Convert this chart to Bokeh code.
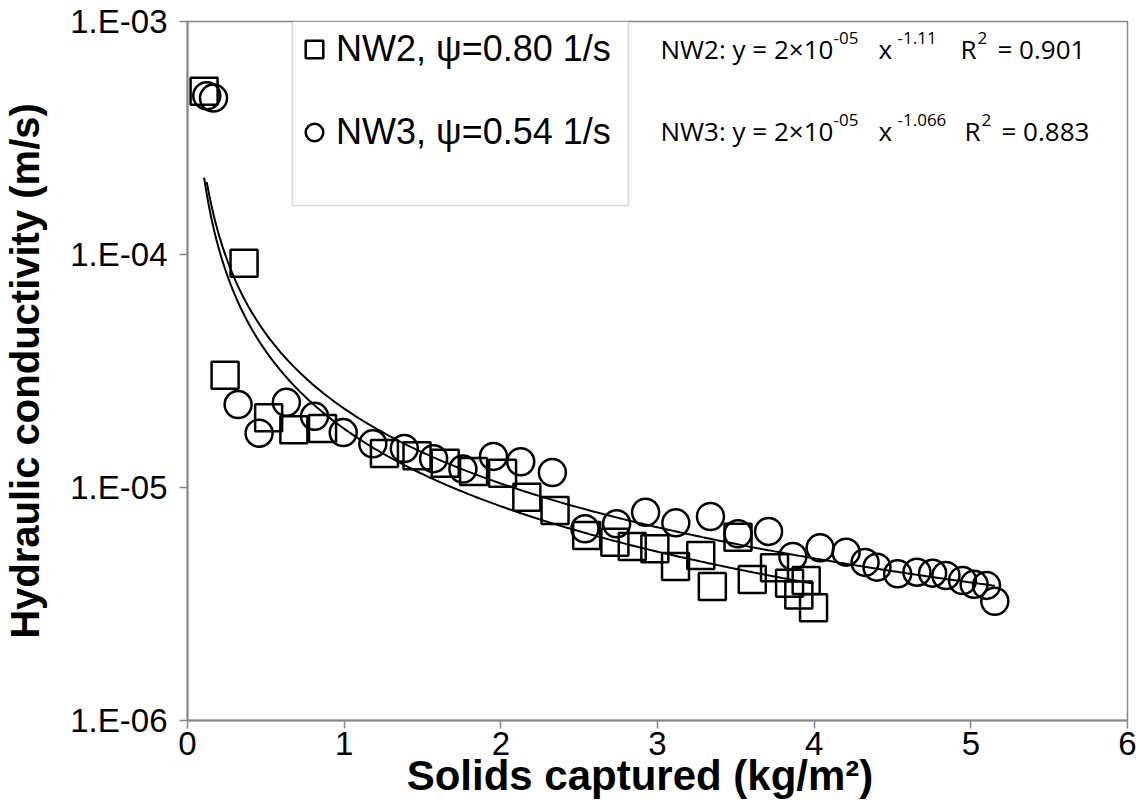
import numpy as np
from bokeh.plotting import figure
from bokeh.models import (Range1d, FixedTicker, CustomJSTickFormatter, Legend,
                          LegendItem, Label, BoxAnnotation)
from bokeh.embed import file_html
from bokeh.resources import INLINE

# ---------------- data ----------------
nw2_solids = [0.106, 0.24, 0.361, 0.518, 0.679, 0.862, 1.257, 1.465, 1.645,
              1.826, 2.011, 2.166, 2.346, 2.548, 2.728, 2.839, 2.983, 3.115,
              3.276, 3.350, 3.514, 3.605, 3.747, 3.843, 3.902, 3.949, 3.996]
nw2_k = [5.02e-4, 3.03e-5, 9.18e-5, 1.99e-5, 1.77e-5, 1.79e-5, 1.40e-5, 1.37e-5,
         1.27e-5, 1.17e-5, 1.15e-5, 9.08e-6, 7.96e-6, 6.22e-6, 5.82e-6, 5.58e-6,
         5.46e-6, 4.58e-6, 5.11e-6, 3.76e-6, 6.12e-6, 4.03e-6, 4.52e-6, 3.88e-6,
         3.46e-6, 3.99e-6, 3.05e-6]

nw3_solids = [0.123, 0.166, 0.323, 0.457, 0.631, 0.811, 0.994, 1.183, 1.384,
              1.571, 1.758, 1.953, 2.127, 2.329, 2.537, 2.739, 2.924, 3.117,
              3.338, 3.514, 3.709, 3.864, 4.038, 4.204, 4.325, 4.401, 4.533,
              4.656, 4.756, 4.841, 4.947, 5.021, 5.100, 5.153]
nw3_k = [4.80e-4, 4.69e-4, 2.27e-5, 1.71e-5, 2.32e-5, 2.02e-5, 1.72e-5, 1.54e-5,
         1.47e-5, 1.33e-5, 1.20e-5, 1.36e-5, 1.29e-5, 1.16e-5, 6.65e-6, 6.99e-6,
         7.83e-6, 7.05e-6, 7.51e-6, 6.33e-6, 6.48e-6, 5.06e-6, 5.51e-6, 5.28e-6,
         4.77e-6, 4.55e-6, 4.26e-6, 4.33e-6, 4.29e-6, 4.19e-6, 3.99e-6, 3.84e-6,
         3.80e-6, 3.25e-6]

x_ticks = [0, 1, 2, 3, 4, 5, 6]
y_ticks = [1e-6, 1e-5, 1e-4, 1e-3]

legend_labels = ["NW2, \u03c8=0.80 1/s", "NW3, \u03c8=0.54 1/s"]
x_title = "Solids captured (kg/m\u00b2)"
y_title = "Hydraulic conductivity (m/s)"

# equation text pieces: (text, superscript?)
eq_nw2 = [("NW2: y = 2\u00d710", False), ("-05", True), ("x", False), ("-1.11", True),
          ("R", False), ("2", True), ("= 0.901", False)]
eq_nw3 = [("NW3: y = 2\u00d710", False), ("-05", True), ("x", False), ("-1.066", True),
          ("R", False), ("2", True), ("= 0.883", False)]


def power_fit(x, y):
    b, ln_a = np.polyfit(np.log(x), np.log(y), 1)
    return np.exp(ln_a), b


# ---------------- figure ----------------
W, H = 1136, 811
F_LEFT, F_TOP, F_RIGHT, F_BOTTOM = 185, 21, 1127, 720   # plot frame, page px
p = figure(width=W, height=H, x_range=Range1d(0, 6), y_range=Range1d(1e-6, 1e-3),
           y_axis_type="log", output_backend="svg", toolbar_location=None,
           min_border_left=F_LEFT, min_border_right=W - F_RIGHT,
           min_border_top=F_TOP, min_border_bottom=H - F_BOTTOM)
p.grid.visible = False
p.outline_line_color = "#868686"
p.outline_line_width = 1.5
p.background_fill_color = "white"
p.border_fill_color = "white"

AX = "#868686"
for ax in (p.xaxis[0], p.yaxis[0]):
    ax.axis_line_color = AX
    ax.axis_line_width = 2
    ax.major_tick_line_color = AX
    ax.major_tick_line_width = 1.5
    ax.major_tick_in = 0
    ax.major_tick_out = 8
    ax.minor_tick_line_color = None
    ax.major_label_text_font = "Liberation Sans"
    ax.major_label_text_font_size = "33px"
    ax.major_label_text_color = "black"
    ax.axis_label_text_font = "Liberation Sans"
    ax.axis_label_text_font_style = "bold"
    ax.axis_label_text_color = "black"

p.xaxis[0].ticker = FixedTicker(ticks=x_ticks)
p.xaxis[0].major_label_standoff = 3
# trailing no-break spaces shift the centred title slightly left, as in the original
p.xaxis[0].axis_label = x_title + "\u00a0\u00a0\u00a0"
p.xaxis[0].axis_label_text_font_size = "42px"
p.xaxis[0].axis_label_standoff = -6

p.yaxis[0].ticker = FixedTicker(ticks=y_ticks)
p.yaxis[0].formatter = CustomJSTickFormatter(code="""
const e = Math.round(Math.log10(tick));
const a = Math.abs(e);
return '1.E' + (e < 0 ? '-' : '+') + (a < 10 ? '0' + a : '' + a);
""")
p.yaxis[0].major_label_standoff = 12
p.yaxis[0].axis_label = y_title
p.yaxis[0].axis_label_text_font_size = "40px"
p.yaxis[0].axis_label_standoff = 20

# trend lines (power fits of the data, as Excel's power trendline)
for xs, ys in ((nw2_solids, nw2_k), (nw3_solids, nw3_k)):
    a, b = power_fit(np.array(xs), np.array(ys))
    xx = np.linspace(min(xs), max(xs), 300)
    p.line(xx, a * xx ** b, line_color="black", line_width=2)

# data markers
r_nw2 = p.scatter(nw2_solids, nw2_k, marker="square", size=27, line_color="black",
                  line_width=2.5, fill_color=None)
r_nw3 = p.scatter(nw3_solids, nw3_k, marker="circle", size=27, line_color="black",
                  line_width=2.5, fill_color=None)

# legend frame (screen units, relative to plot frame)
LB_L, LB_T, LB_R, LB_B = 290, 21, 626, 205
p.add_layout(BoxAnnotation(left=LB_L - F_LEFT, right=LB_R - F_LEFT,
                           top=F_BOTTOM - LB_T, bottom=F_BOTTOM - LB_B,
                           left_units="screen", right_units="screen",
                           top_units="screen", bottom_units="screen",
                           fill_color="white", fill_alpha=1.0,
                           line_color="#868686", line_width=1.5, level="overlay"))

ROW1, ROW2 = 49, 132   # legend row centres, page px
GH = 50
legend = Legend(items=[LegendItem(label=legend_labels[0], renderers=[r_nw2]),
                       LegendItem(label=legend_labels[1], renderers=[r_nw3])],
                location=(LB_L - F_LEFT, F_BOTTOM - (ROW2 + GH // 2)),
                margin=0, padding=0, spacing=(ROW2 - ROW1) - GH,
                glyph_width=44, glyph_height=GH, label_height=GH, label_standoff=0,
                label_text_font="Liberation Sans", label_text_font_size="36px",
                label_text_color="black",
                border_line_color=None, background_fill_alpha=0.0)
p.add_layout(legend)

# trend equations, placed in screen units relative to the plot frame
eq_layout = [
    (eq_nw2, [658, 831, 876, 895, 958, 975, 995], ROW1 - 1),
    (eq_nw3, [658, 831, 876, 895, 962, 979, 999], ROW2 - 2),
]
for pieces, xs_page, base_page in eq_layout:
    for (txt, sup), xp in zip(pieces, xs_page):
        p.add_layout(Label(x=xp - F_LEFT,
                           y=F_BOTTOM - base_page + (11 if sup else 0),
                           x_units="screen", y_units="screen", text=txt,
                           text_font="Open Sans",
                           text_font_size="17px" if sup else "26px",
                           text_color="black", text_baseline="alphabetic",
                           text_align="left"))

open("out.html", "w").write(file_html(p, INLINE))
